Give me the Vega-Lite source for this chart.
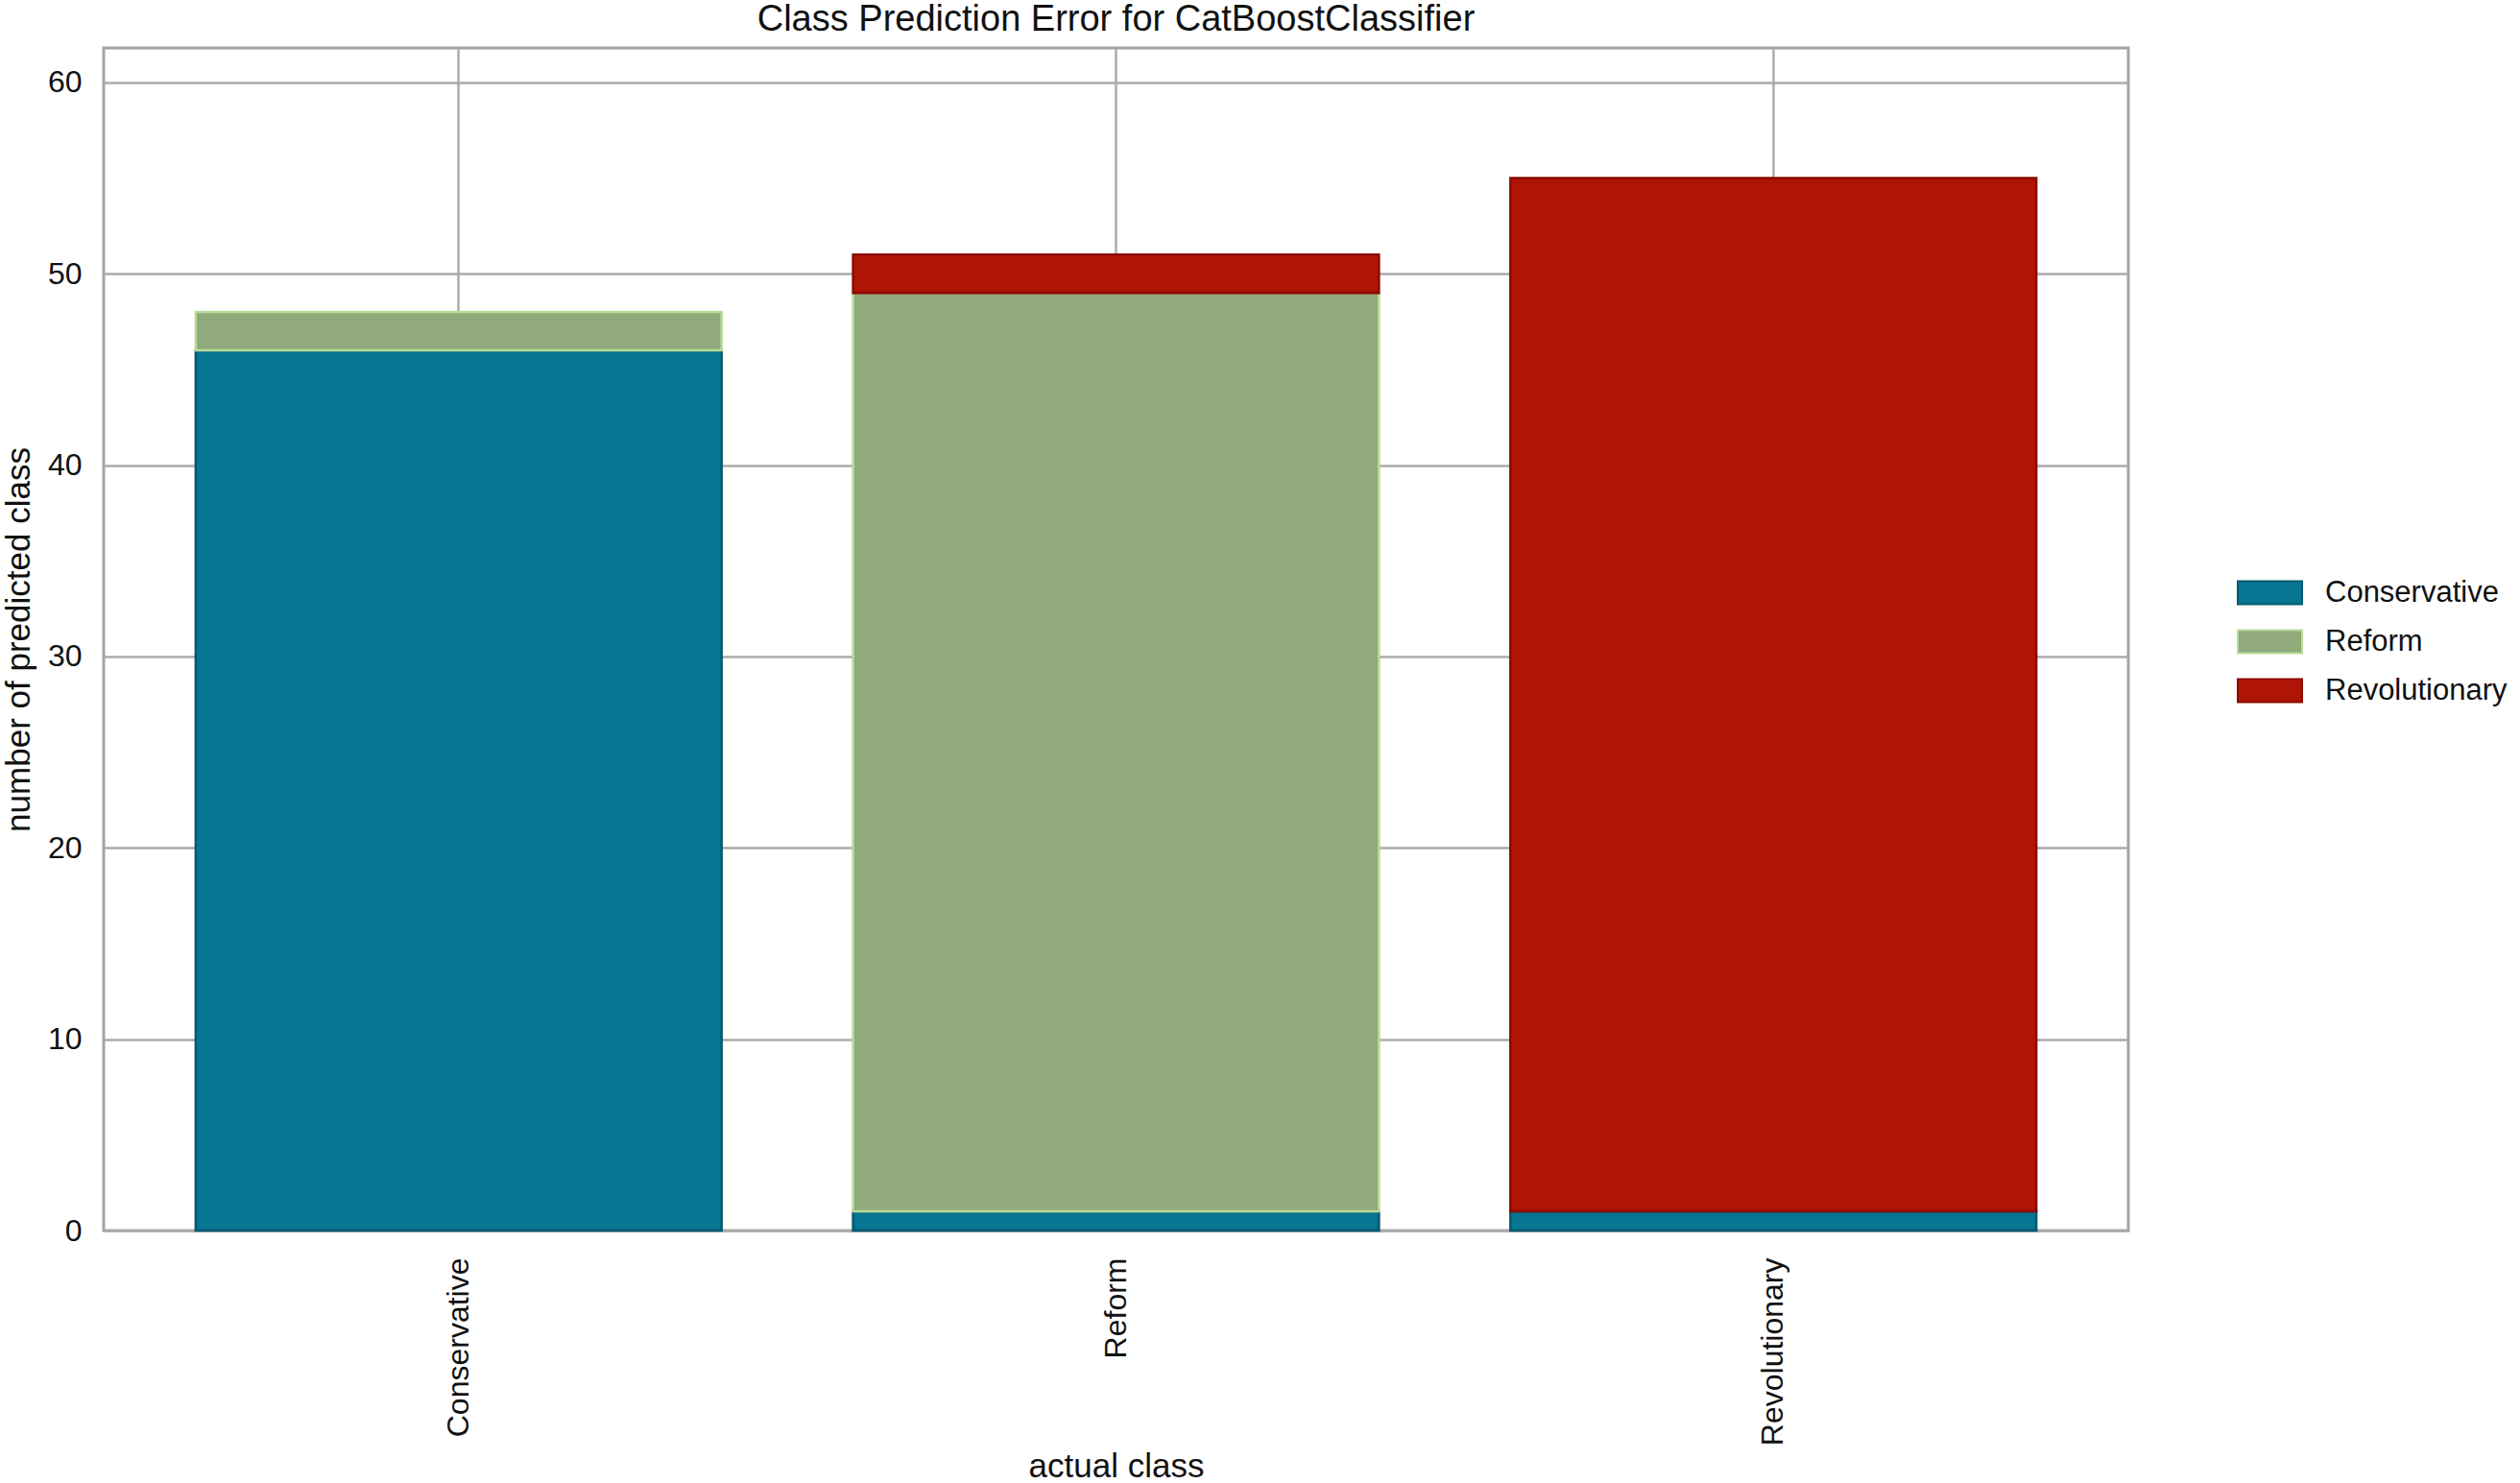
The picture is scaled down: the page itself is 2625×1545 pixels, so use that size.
{
  "$schema": "https://vega.github.io/schema/vega-lite/v6.json",
  "autosize": {"type": "none"},
  "padding": {"left": 108, "top": 50, "right": 408, "bottom": 263},
  "width": 2109,
  "height": 1232,
  "background": "white",
  "title": {
    "text": "Class Prediction Error for CatBoostClassifier",
    "font": "Liberation Sans",
    "fontSize": 38,
    "fontWeight": "normal",
    "color": "#111111",
    "anchor": "middle",
    "frame": "group",
    "baseline": "alphabetic",
    "offset": -20
  },
  "data": {
    "values": [
      {"actual": "Conservative", "predicted": "Conservative", "count": 46},
      {"actual": "Conservative", "predicted": "Reform", "count": 2},
      {"actual": "Reform", "predicted": "Conservative", "count": 1},
      {"actual": "Reform", "predicted": "Reform", "count": 48},
      {"actual": "Reform", "predicted": "Revolutionary", "count": 2},
      {"actual": "Revolutionary", "predicted": "Conservative", "count": 1},
      {"actual": "Revolutionary", "predicted": "Revolutionary", "count": 54}
    ]
  },
  "mark": {"type": "bar", "strokeWidth": 2.5},
  "encoding": {
    "x": {
      "field": "actual",
      "type": "nominal",
      "sort": ["Conservative", "Reform", "Revolutionary"],
      "scale": {"paddingInner": 0.2, "paddingOuter": 0.14},
      "axis": {
        "title": "actual class",
        "titleFont": "Liberation Sans",
        "titleFontSize": 35,
        "titleFontWeight": "normal",
        "titleColor": "#111111",
        "titlePadding": 28,
        "labelFont": "Liberation Sans",
        "labelFontSize": 32,
        "labelColor": "#111111",
        "labelAngle": -90,
        "labelPadding": 28,
        "labelLimit": 0,
        "ticks": false,
        "domain": false,
        "grid": true,
        "gridColor": "#ababab",
        "gridWidth": 2.5
      }
    },
    "y": {
      "field": "count",
      "type": "quantitative",
      "stack": "zero",
      "scale": {"domain": [0, 61.8], "nice": false},
      "axis": {
        "title": "number of predicted class",
        "titleFont": "Liberation Sans",
        "titleFontSize": 35,
        "titleFontWeight": "normal",
        "titleColor": "#111111",
        "titlePadding": 12,
        "titleLimit": 0,
        "labelFont": "Liberation Sans",
        "labelFontSize": 32,
        "labelColor": "#111111",
        "labelPadding": 23,
        "values": [0, 10, 20, 30, 40, 50, 60],
        "ticks": false,
        "domain": false,
        "grid": true,
        "gridColor": "#ababab",
        "gridWidth": 2.5
      }
    },
    "color": {
      "field": "predicted",
      "type": "nominal",
      "scale": {
        "domain": ["Conservative", "Reform", "Revolutionary"],
        "range": ["#087592", "#91aa7b", "#ae1505"]
      },
      "legend": {
        "title": null,
        "orient": "none",
        "legendX": 2222,
        "legendY": 533,
        "padding": 0,
        "labelFont": "Liberation Sans",
        "labelFontSize": 31,
        "labelColor": "#111111",
        "labelOffset": 23,
        "labelLimit": 0,
        "rowPadding": -7.5,
        "symbolType": "M-1,-0.36L1,-0.36L1,0.36L-1,0.36Z",
        "symbolSize": 4489,
        "symbolStrokeWidth": 2,
        "symbolOpacity": 1
      }
    },
    "stroke": {
      "field": "predicted",
      "type": "nominal",
      "scale": {
        "domain": ["Conservative", "Reform", "Revolutionary"],
        "range": ["#05596f", "#b9db98", "#8a0b00"]
      },
      "legend": null
    },
    "order": {"field": "predicted", "sort": "ascending"}
  },
  "config": {
    "view": {"stroke": "#a3a3a3", "strokeWidth": 3}
  }
}
